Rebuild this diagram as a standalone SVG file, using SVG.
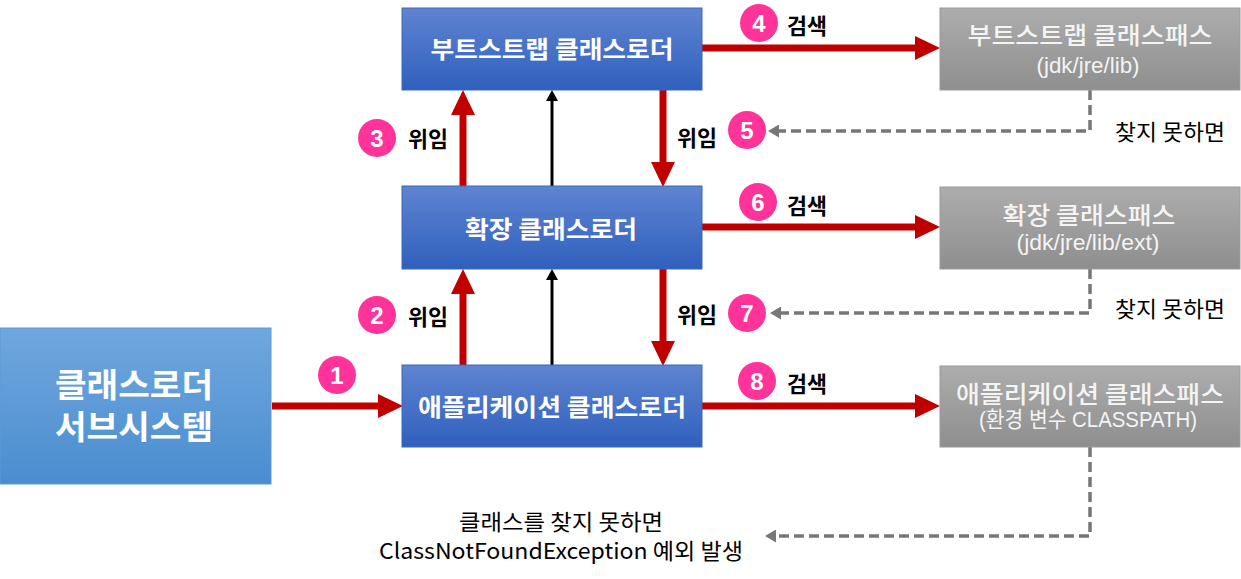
<svg xmlns="http://www.w3.org/2000/svg" width="1241" height="579" viewBox="0 0 1241 579">
<defs>
<linearGradient id="gBlue" x1="0" y1="0" x2="0" y2="1"><stop offset="0" stop-color="#5f84d1"/><stop offset="1" stop-color="#2f60bd"/></linearGradient>
<linearGradient id="gSub" x1="0" y1="0" x2="0" y2="1"><stop offset="0" stop-color="#70a7de"/><stop offset="1" stop-color="#4a8dcf"/></linearGradient>
<linearGradient id="gGray" x1="0" y1="0" x2="0" y2="1"><stop offset="0" stop-color="#adadad"/><stop offset="1" stop-color="#8e8e8e"/></linearGradient>
<marker id="mRed" markerUnits="userSpaceOnUse" markerWidth="25" markerHeight="24" refX="0" refY="12" orient="auto"><path d="M0,0 L25,12 L0,24 Z" fill="#c00000"/></marker>
<marker id="mBlack" markerUnits="userSpaceOnUse" markerWidth="11" markerHeight="12" refX="0" refY="6" orient="auto"><path d="M0,0 L11,6 L0,12 Z" fill="#000"/></marker>
<marker id="mGray" markerUnits="userSpaceOnUse" markerWidth="11" markerHeight="13" refX="0" refY="6.5" orient="auto"><path d="M0,0 L11,6.5 L0,13 Z" fill="#777"/></marker>
</defs>
<style>
.box{fill:url(#gBlue);stroke:#3b68bd;stroke-width:1}
.sub{fill:url(#gSub);stroke:#5b9bd5;stroke-width:1}
.gray{fill:url(#gGray);stroke:#9a9a9a;stroke-width:1}
.bt{font-family:"Noto Sans CJK KR","Liberation Sans",sans-serif;font-weight:700;font-size:24px;fill:#fff;text-anchor:middle;dominant-baseline:central}
.st{font-family:"Noto Sans CJK KR","Liberation Sans",sans-serif;font-weight:700;font-size:33px;fill:#fff;text-anchor:middle;dominant-baseline:central}
.gt{font-family:"Noto Sans CJK KR","Liberation Sans",sans-serif;font-weight:500;font-size:24px;fill:#f4f4f4;text-anchor:middle;dominant-baseline:central}
.gs{font-family:"Liberation Sans","Noto Sans CJK KR",sans-serif;font-size:22px;fill:#f4f4f4;text-anchor:middle;dominant-baseline:central}
.lbl{font-family:"Noto Sans CJK KR","Liberation Sans",sans-serif;font-weight:700;font-size:22px;fill:#000;text-anchor:middle;dominant-baseline:central}
.note{font-family:"Noto Sans CJK KR","Liberation Sans",sans-serif;font-weight:400;font-size:22px;fill:#000;text-anchor:middle;dominant-baseline:central}
.num{fill:#ff3399}
.nt{font-family:"Liberation Sans",sans-serif;font-weight:700;font-size:24px;fill:#fff;text-anchor:middle;dominant-baseline:central}
.red{stroke:#c00000;stroke-width:7;fill:none;marker-end:url(#mRed)}
.blk{stroke:#000;stroke-width:3;fill:none;marker-end:url(#mBlack)}
.dash{stroke:#777;stroke-width:3.5;fill:none;stroke-dasharray:10 5;marker-end:url(#mGray)}
</style>
<rect width="1241" height="579" fill="#fff"/>

<g id="connectors">
<line class="red" x1="272" y1="406" x2="378" y2="406"/>
<line class="red" x1="702" y1="48" x2="915" y2="48"/>
<line class="red" x1="702" y1="227" x2="915" y2="227"/>
<line class="red" x1="702" y1="406" x2="915" y2="406"/>
<line class="red" x1="463" y1="186" x2="463" y2="115"/>
<line class="red" x1="463" y1="365" x2="463" y2="294"/>
<line class="red" x1="663" y1="90" x2="663" y2="162"/>
<line class="red" x1="663" y1="269" x2="663" y2="341"/>
<line class="blk" x1="552" y1="186" x2="552" y2="101"/>
<line class="blk" x1="552" y1="365" x2="552" y2="280"/>
<path class="dash" d="M1090,90 V131 H779"/>
<path class="dash" d="M1090,269 V313 H781"/>
<path class="dash" d="M1090,447 V536 H776"/>
</g>

<g id="subsystem">
<rect class="sub" x="0" y="328" width="271" height="156"/>
<text class="st" x="134" y="383" textLength="158" lengthAdjust="spacingAndGlyphs">클래스로더</text>
<text class="st" x="134" y="425" textLength="158" lengthAdjust="spacingAndGlyphs">서브시스템</text>
</g>

<g id="bootstrap-loader">
<rect class="box" x="402" y="8" width="300" height="82"/>
<text class="bt" x="552" y="47" textLength="243" lengthAdjust="spacingAndGlyphs">부트스트랩 클래스로더</text>
</g>
<g id="ext-loader">
<rect class="box" x="402" y="186" width="300" height="83"/>
<text class="bt" x="551" y="227" textLength="172" lengthAdjust="spacingAndGlyphs">확장 클래스로더</text>
</g>
<g id="app-loader">
<rect class="box" x="402" y="365" width="300" height="82"/>
<text class="bt" x="552" y="405" textLength="268" lengthAdjust="spacingAndGlyphs">애플리케이션 클래스로더</text>
</g>

<g id="bootstrap-path">
<rect class="gray" x="940" y="8" width="300" height="82"/>
<text class="gt" x="1090" y="33" textLength="245" lengthAdjust="spacingAndGlyphs">부트스트랩 클래스패스</text>
<text class="gs" x="1088" y="65" textLength="103" lengthAdjust="spacingAndGlyphs">(jdk/jre/lib)</text>
</g>
<g id="ext-path">
<rect class="gray" x="940" y="187" width="300" height="82"/>
<text class="gt" x="1089" y="213" textLength="173" lengthAdjust="spacingAndGlyphs">확장 클래스패스</text>
<text class="gs" x="1088" y="242" textLength="143" lengthAdjust="spacingAndGlyphs">(jdk/jre/lib/ext)</text>
</g>
<g id="app-path">
<rect class="gray" x="940" y="366" width="300" height="81"/>
<text class="gt" x="1090" y="392" textLength="268" lengthAdjust="spacingAndGlyphs">애플리케이션 클래스패스</text>
<text class="gs" x="1088" y="419" textLength="218" lengthAdjust="spacingAndGlyphs">(환경 변수 CLASSPATH)</text>
</g>

<g id="labels">
<circle class="num" cx="337" cy="375" r="19"/><text class="nt" x="337" y="375">1</text>
<circle class="num" cx="377" cy="315" r="19"/><text class="nt" x="377" y="315">2</text>
<text class="lbl" x="428" y="315" textLength="40" lengthAdjust="spacingAndGlyphs">위임</text>
<circle class="num" cx="377" cy="138" r="19"/><text class="nt" x="377" y="138">3</text>
<text class="lbl" x="428" y="137" textLength="40" lengthAdjust="spacingAndGlyphs">위임</text>
<circle class="num" cx="759" cy="23" r="19"/><text class="nt" x="759" y="23">4</text>
<text class="lbl" x="807" y="24" textLength="40" lengthAdjust="spacingAndGlyphs">검색</text>
<text class="lbl" x="697" y="136" textLength="40" lengthAdjust="spacingAndGlyphs">위임</text>
<circle class="num" cx="747" cy="130" r="19"/><text class="nt" x="747" y="130">5</text>
<circle class="num" cx="758" cy="202" r="19"/><text class="nt" x="758" y="202">6</text>
<text class="lbl" x="807" y="204" textLength="40" lengthAdjust="spacingAndGlyphs">검색</text>
<text class="lbl" x="697" y="313" textLength="40" lengthAdjust="spacingAndGlyphs">위임</text>
<circle class="num" cx="747" cy="313" r="19"/><text class="nt" x="747" y="313">7</text>
<circle class="num" cx="757" cy="381" r="19"/><text class="nt" x="757" y="381">8</text>
<text class="lbl" x="807" y="382" textLength="40" lengthAdjust="spacingAndGlyphs">검색</text>
<text class="note" x="1170" y="130" textLength="110" lengthAdjust="spacingAndGlyphs">찾지 못하면</text>
<text class="note" x="1170" y="307" textLength="110" lengthAdjust="spacingAndGlyphs">찾지 못하면</text>
<text class="note" x="561" y="520" textLength="204" lengthAdjust="spacingAndGlyphs">클래스를 찾지 못하면</text>
<text class="note" x="561" y="549" textLength="364" lengthAdjust="spacingAndGlyphs">ClassNotFoundException 예외 발생</text>
</g>
</svg>
